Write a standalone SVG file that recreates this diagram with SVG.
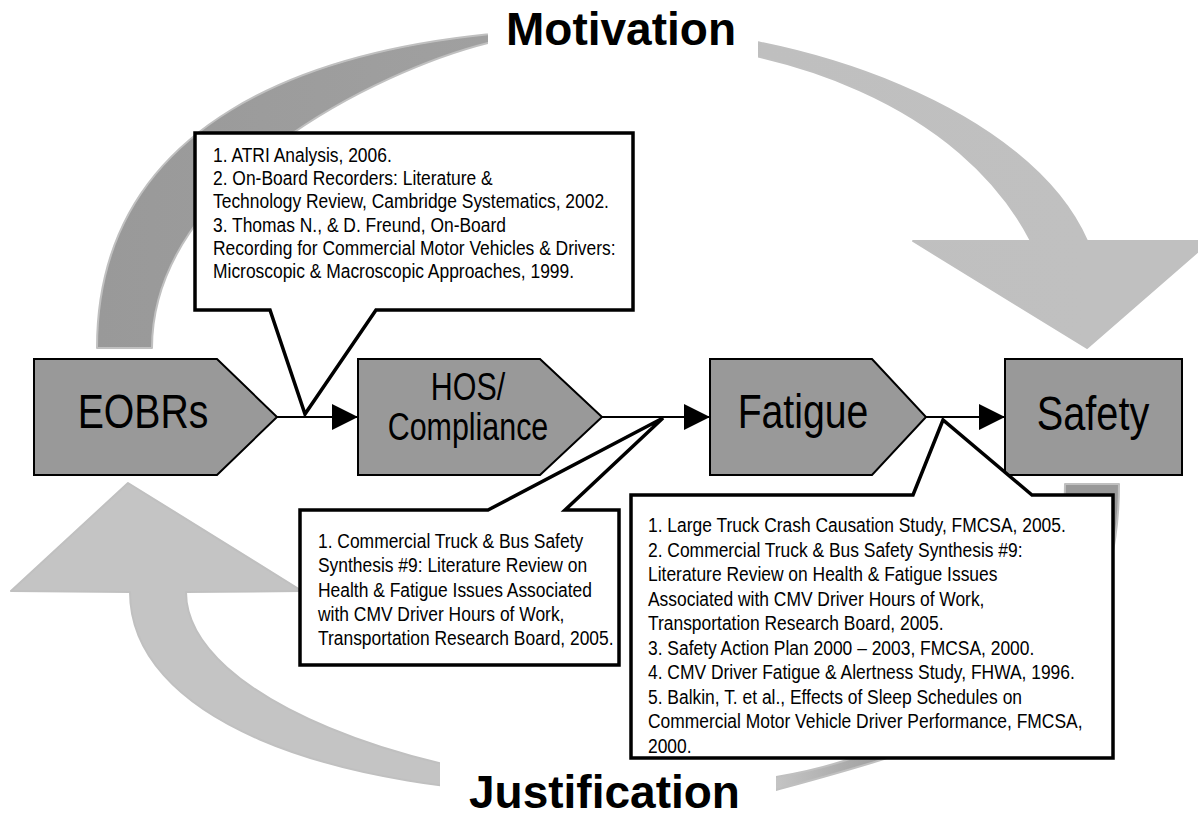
<svg xmlns="http://www.w3.org/2000/svg" width="1198" height="817" viewBox="0 0 1198 817">
<style>
.cbox{fill:#fff;stroke:#000;stroke-width:3.5;stroke-linejoin:miter}
.node{fill:#999;stroke:#000;stroke-width:2}
.conn{stroke:#000;stroke-width:2;fill:none;marker-end:url(#ah)}
.ref{font-family:"Liberation Sans",Arial,sans-serif;font-size:21px;fill:#000}
.lbl{font-family:"Liberation Sans",Arial,sans-serif;fill:#000;text-anchor:middle}
.title{font-family:"Liberation Sans",Arial,sans-serif;font-weight:bold;font-size:46px;fill:#000}
.arc{stroke:#c0c0c0;stroke-width:2;stroke-linejoin:round}
</style>
<defs>
<marker id="ah" markerUnits="userSpaceOnUse" markerWidth="26" markerHeight="26" refX="26" refY="13" orient="auto">
<path d="M0,0 L26,13 L0,26 Z" fill="#000"/>
</marker>
<linearGradient id="gTop" gradientUnits="userSpaceOnUse" x1="97" y1="0" x2="1090" y2="0">
<stop offset="0" stop-color="#999"/>
<stop offset="0.39" stop-color="#a0a0a0"/>
<stop offset="0.67" stop-color="#bfbfbf"/>
<stop offset="1" stop-color="#c0c0c0"/>
</linearGradient>
<linearGradient id="gBot" gradientUnits="userSpaceOnUse" x1="776" y1="0" x2="900" y2="0">
<stop offset="0" stop-color="#c4c4c4"/>
<stop offset="1" stop-color="#999"/>
</linearGradient>
<clipPath id="clipTop">
<rect x="0" y="0" width="488" height="817"/>
<rect x="758" y="0" width="440" height="817"/>
</clipPath>
<clipPath id="clipBot">
<rect x="0" y="0" width="440" height="817"/>
<rect x="776" y="0" width="422" height="817"/>
</clipPath>
</defs>
<rect width="1198" height="817" fill="#fff"/>

<g id="motivation-arc" clip-path="url(#clipTop)">
<path class="arc" fill="url(#gTop)" d="M97,348 C97,140 280,28 620,28 C800,28 1030,110 1087,241 L1210,241 L1087,348 L913,241 L1031,241 C961,105 780,41 620,41 L488,43 C380,70 152,180 152,348 Z"/>
</g>
<g id="justification-arc" clip-path="url(#clipBot)">
<path class="arc" fill="url(#gBot)" d="M130,592 C130,714 318,795 600,795 C680,795 730,792 776,790 C960,740 1119,700 1119,484 L1065,484 C1065,650 940,750 776,777 C720,788 660,783 600,783 C430,783 186,700 186,592 L302,591 L128,483 L11,591 Z"/>
</g>

<g id="title-motivation"><text class="title" x="506" y="45">Motivation</text></g>
<g id="title-justification"><text class="title" x="469" y="808">Justification</text></g>

<g id="node-eobrs">
<path class="node" d="M34,359 H217 L277,417 L217,475 H34 Z"/>
<text class="lbl" font-size="49" transform="translate(143,428) scale(0.8,1)">EOBRs</text>
</g>
<g id="node-hos">
<path class="node" d="M358,359 H540 L602,417 L540,475 H358 Z"/>
<text class="lbl" font-size="38" transform="translate(468,400) scale(0.8,1)">HOS/</text>
<text class="lbl" font-size="38" transform="translate(468,440) scale(0.8,1)">Compliance</text>
</g>
<g id="node-fatigue">
<path class="node" d="M710,359 H872 L926,417 L872,475 H710 Z"/>
<text class="lbl" font-size="49" transform="translate(803,428) scale(0.8,1)">Fatigue</text>
</g>
<g id="node-safety">
<rect class="node" x="1005" y="359" width="177" height="116"/>
<text class="lbl" font-size="49" transform="translate(1093,430) scale(0.81,1)">Safety</text>
</g>

<g id="connectors">
<line class="conn" x1="277" y1="417" x2="358" y2="417"/>
<line class="conn" x1="602" y1="417" x2="710" y2="417"/>
<line class="conn" x1="926" y1="417" x2="1005" y2="417"/>
</g>

<g id="callout-eobrs-hos">
<path class="cbox" d="M195,133 H633 V310 H376 L305,414 L270,310 H195 Z"/>
<text class="ref" transform="translate(213,0) scale(0.83,1)">
<tspan x="0" y="162">1. ATRI Analysis, 2006.</tspan>
<tspan x="0" y="185">2. On-Board Recorders: Literature &amp;</tspan>
<tspan x="0" y="208">Technology Review, Cambridge Systematics, 2002.</tspan>
<tspan x="0" y="232">3. Thomas N., &amp; D. Freund, On-Board</tspan>
<tspan x="0" y="255">Recording for Commercial Motor Vehicles &amp; Drivers:</tspan>
<tspan x="0" y="278">Microscopic &amp; Macroscopic Approaches, 1999.</tspan>
</text>
</g>

<g id="callout-hos-fatigue">
<path class="cbox" d="M300,510 H488 L663,418 L565,510 H619 V665 H300 Z"/>
<text class="ref" transform="translate(318,0) scale(0.83,1)">
<tspan x="0" y="548">1. Commercial Truck &amp; Bus Safety</tspan>
<tspan x="0" y="572">Synthesis #9: Literature Review on</tspan>
<tspan x="0" y="597">Health &amp; Fatigue Issues Associated</tspan>
<tspan x="0" y="621">with CMV Driver Hours of Work,</tspan>
<tspan x="0" y="645">Transportation Research Board, 2005.</tspan>
</text>
</g>

<g id="callout-fatigue-safety">
<path class="cbox" d="M631,495 H913 L943,420 L1032,495 H1113 V758 H631 Z"/>
<text class="ref" transform="translate(648,0) scale(0.83,1)">
<tspan x="0" y="532">1. Large Truck Crash Causation Study, FMCSA, 2005.</tspan>
<tspan x="0" y="557">2. Commercial Truck &amp; Bus Safety Synthesis #9:</tspan>
<tspan x="0" y="581">Literature Review on Health &amp; Fatigue Issues</tspan>
<tspan x="0" y="606">Associated with CMV Driver Hours of Work,</tspan>
<tspan x="0" y="630">Transportation Research Board, 2005.</tspan>
<tspan x="0" y="655">3. Safety Action Plan 2000 – 2003, FMCSA, 2000.</tspan>
<tspan x="0" y="679">4. CMV Driver Fatigue &amp; Alertness Study, FHWA, 1996.</tspan>
<tspan x="0" y="704">5. Balkin, T. et al., Effects of Sleep Schedules on</tspan>
<tspan x="0" y="728">Commercial Motor Vehicle Driver Performance, FMCSA,</tspan>
<tspan x="0" y="753">2000.</tspan>
</text>
</g>
</svg>
